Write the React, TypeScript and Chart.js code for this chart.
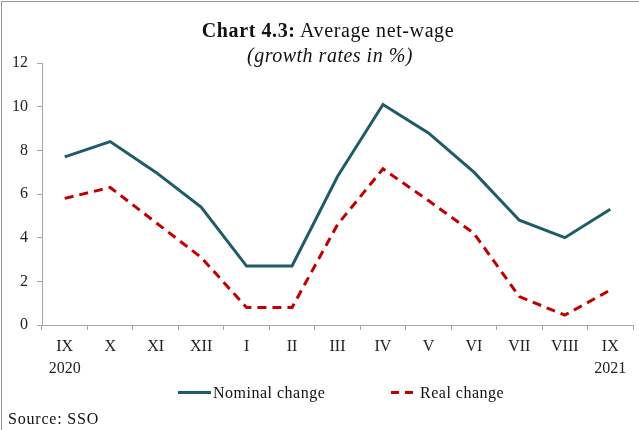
import React, { useEffect, useRef } from "react";
import { Chart, registerables } from "chart.js";
Chart.register(...registerables);

const categories: (string | string[])[] = [
  ["IX", "2020"], "X", "XI", "XII", "I", "II", "III", "IV", "V", "VI", "VII", "VIII", ["IX", "2021"],
];
const nominalChange = [7.7, 8.4, 7.0, 5.4, 2.7, 2.7, 6.8, 10.1, 8.8, 7.0, 4.8, 4.0, 5.3];
const realChange = [5.8, 6.3, 4.7, 3.1, 0.8, 0.8, 4.6, 7.15, 5.7, 4.2, 1.3, 0.45, 1.6];
const yMin = 0;
const yMax = 12;
const yStep = 2;

const FONT = "'Liberation Serif', 'DejaVu Serif', serif";
const NOMINAL_COLOR = "#1F5B68";
const REAL_COLOR = "#C00000";
const AXIS_COLOR = "#A6A6A6";

export default function App() {
  const ref = useRef<HTMLCanvasElement | null>(null);
  useEffect(() => {
    if (!ref.current) return;
    const chart = new Chart(ref.current, {
      type: "line",
      data: {
        labels: categories,
        datasets: [
          {
            label: "Nominal change",
            data: nominalChange,
            borderColor: NOMINAL_COLOR,
            borderWidth: 3,
            pointRadius: 0,
            tension: 0,
          },
          {
            label: "Real change",
            data: realChange,
            borderColor: REAL_COLOR,
            borderWidth: 3,
            borderDash: [9, 6],
            pointRadius: 0,
            tension: 0,
          },
        ],
      },
      options: {
        animation: false,
        responsive: false,
        layout: { padding: { left: 0, top: 63, right: 6, bottom: 0 } },
        plugins: { legend: { display: false }, title: { display: false }, tooltip: { enabled: false } },
        scales: {
          x: {
            type: "category",
            offset: true,
            afterFit: (s: any) => { s.height = 105; },
            grid: { offset: true, drawOnChartArea: false, drawTicks: true, tickLength: 5, color: AXIS_COLOR },
            border: { color: AXIS_COLOR, width: 1 },
            ticks: {
              color: "#222",
              font: { family: FONT, size: 16, lineHeight: 22 / 16 },
              padding: 6,
              maxRotation: 0,
              autoSkip: false,
            },
          },
          y: {
            min: yMin,
            max: yMax,
            afterFit: (s: any) => { s.width = 42; },
            grid: { drawOnChartArea: false, drawTicks: true, tickLength: 5, color: AXIS_COLOR },
            border: { color: AXIS_COLOR, width: 1 },
            ticks: {
              stepSize: yStep,
              color: "#222",
              font: { family: FONT, size: 16 },
              padding: 9,
            },
          },
        },
      },
    });
    return () => chart.destroy();
  }, []);

  return (
    <div style={{ position: "fixed", left: 0, top: 0, width: 639, height: 430, background: "#fff", overflow: "hidden", fontFamily: FONT, color: "#111" }}>
      <div style={{ position: "absolute", left: 1, top: 1, width: 660, height: 460, borderLeft: "1px solid #999", borderTop: "1px solid #999" }} />
      <canvas ref={ref} width={639} height={430} style={{ position: "absolute", left: 0, top: 0, width: 639, height: 430 }} />
      <div style={{ position: "absolute", left: 0, width: 656, top: 18, textAlign: "center", fontSize: 20, lineHeight: "24px", letterSpacing: 0.6 }}>
        <b>Chart 4.3:</b> Average net-wage
      </div>
      <div style={{ position: "absolute", left: 0, width: 660, top: 43, textAlign: "center", fontSize: 20, lineHeight: "24px", fontStyle: "italic", letterSpacing: 0.5 }}>
        (growth rates in %)
      </div>
      <div style={{ position: "absolute", left: 178, top: 391, width: 33, height: 3, background: NOMINAL_COLOR }} />
      <div style={{ position: "absolute", left: 213, top: 383, fontSize: 16, lineHeight: "20px", letterSpacing: 0.5 }}>Nominal change</div>
      <div style={{ position: "absolute", left: 391, top: 391, width: 8, height: 3, background: REAL_COLOR }} />
      <div style={{ position: "absolute", left: 405, top: 391, width: 8, height: 3, background: REAL_COLOR }} />
      <div style={{ position: "absolute", left: 420, top: 383, fontSize: 16, lineHeight: "20px", letterSpacing: 0.5 }}>Real change</div>
      <div style={{ position: "absolute", left: 8, top: 409, fontSize: 16, lineHeight: "20px", letterSpacing: 0.8 }}>Source: SSO</div>
    </div>
  );
}
